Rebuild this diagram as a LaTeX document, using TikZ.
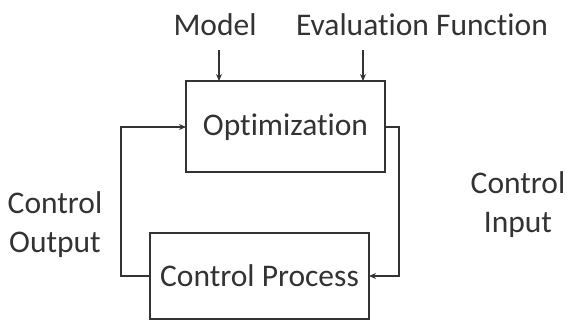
\documentclass[tikz,border=0pt]{standalone}
\usepackage{fontspec}
\setmainfont{Carlito}[Ligatures={NoCommon}]
\usetikzlibrary{arrows.meta}
\begin{document}
\begin{tikzpicture}[x=1pt,y=-1pt,
  box/.style={draw=black!80,line width=1.4pt},
  lbl/.style={font=\fontsize{31.5}{39}\selectfont,text=black!80,inner sep=0pt},
  conn/.style={draw=black!80,line width=1.4pt,-{Stealth[length=7pt,width=6pt]}}]
\useasboundingbox (0,0) rectangle (574,322);
\path[box] (186,81) rectangle (385,172);
\node[lbl] (opt) at (285.5,127) {Optimization};
\coordinate (optL) at (186,127);
\coordinate (optR) at (385,127);
\coordinate (optTa) at (219,81);
\coordinate (optTb) at (363,81);
\path[box] (150,233) rectangle (369,319);
\node[lbl] (cp) at (259.5,276) {Control Process};
\coordinate (cpL) at (150,276);
\coordinate (cpR) at (369,276);
\node[lbl] (model) at (215,25) {Model};
\node[lbl] (eval) at (422,25) {Evaluation Function};
\node[lbl,align=center] (cout) at (55,225) {Control\\Output};
\node[lbl,align=center] (cin) at (518,205) {Control\\Input};
\coordinate (ma) at (219,50);
\coordinate (ea) at (363,50);
\draw[conn] (ma) -- (optTa);
\draw[conn] (ea) -- (optTb);
\draw[conn] (cpL) -- (121,276) -- (121,127) -- (optL);
\draw[conn] (optR) -- (399,127) -- (399,276) -- (cpR);
\end{tikzpicture}
\end{document}
